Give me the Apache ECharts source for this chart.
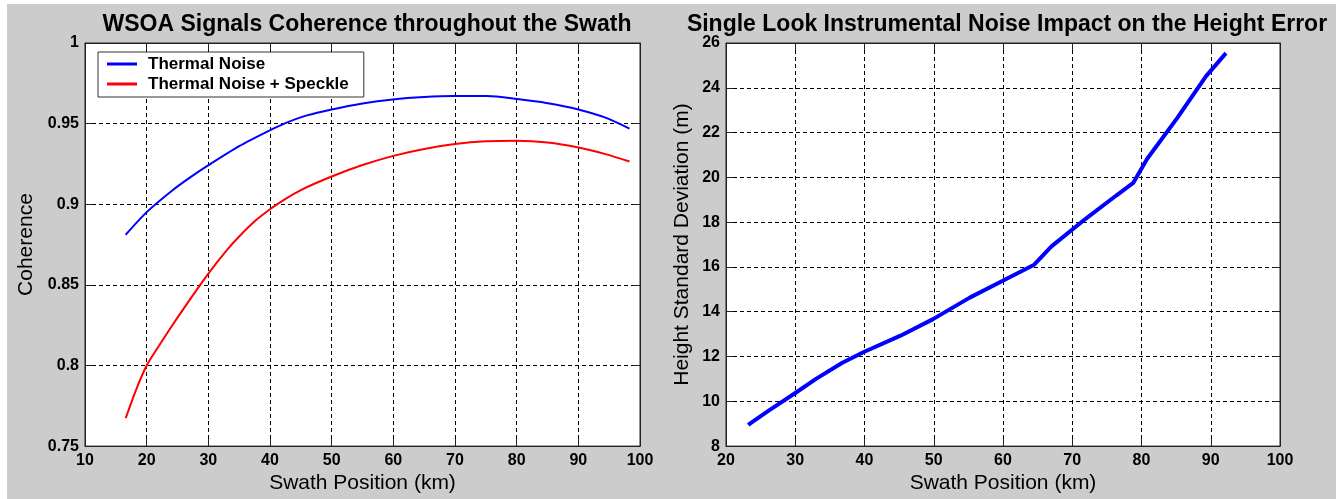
<!DOCTYPE html>
<html>
<head>
<meta charset="utf-8">
<script src="https://cdn.jsdelivr.net/npm/echarts@6/dist/echarts.min.js"></script>
<style>
    html, body { margin: 0; padding: 0; background: #ffffff; }
    #chart { width: 1336px; height: 499px; }
</style>
</head>
<body>
<div id="chart"></div>
<script>

// left panel: coherence vs swath position
var thermalX = [16.6, 20, 24.1, 27, 29.9, 35, 39.8, 42.5, 46, 50, 55, 59.9, 65, 69.8, 75.3, 80.1, 84.8, 90, 94.4, 98.3];
var thermalY = [0.8811, 0.8951, 0.9084, 0.9165, 0.9239, 0.936, 0.9455, 0.9503, 0.9551, 0.9588, 0.9625, 0.965, 0.9665, 0.9671, 0.9671, 0.9652, 0.9628, 0.9588, 0.9537, 0.9469];

var speckleX = [16.6, 18.3, 20, 22, 24, 26, 28, 30, 33, 35, 37.7, 40, 42.2, 45, 50, 55, 60, 65, 70, 75, 80, 85, 90, 94.4, 98.3];
var speckleY = [0.7674, 0.7851, 0.8, 0.8122, 0.824, 0.8353, 0.8463, 0.857, 0.8715, 0.88, 0.89, 0.8969, 0.9026, 0.9088, 0.9172, 0.9243, 0.93, 0.9343, 0.9373, 0.939, 0.9394, 0.9383, 0.9352, 0.9311, 0.9265];

// right panel: height standard deviation
var heightX = [23.2, 26, 29.9, 33, 36.8, 39.9, 45.2, 49.9, 55.2, 59.9, 64.5, 67, 71.4, 76.4, 78.8, 80.8, 85.2, 89.3, 92.2];
var heightY = [8.95, 9.55, 10.35, 11.0, 11.72, 12.2, 12.93, 13.67, 14.63, 15.37, 16.1, 16.92, 18.02, 19.2, 19.75, 20.82, 22.67, 24.51, 25.55];

var titles = ['WSOA Signals Coherence throughout the Swath', 'Single Look Instrumental Noise Impact on the Height Error'];
var legendNames = ['Thermal Noise', 'Thermal Noise + Speckle'];

function pairs(xs, ys) {
    return xs.map(function (x, i) { return [x, ys[i]]; });
}

var font = "'Liberation Sans', Arial, sans-serif";
var gridDash = { color: '#000', width: 1, type: [4, 3] };
var tickLabel = { fontFamily: font, fontSize: 16, fontWeight: 'bold', color: '#000', margin: 6 };

function bottomAxis(grid, min, max) {
    return {
        type: 'value', gridIndex: grid, min: min, max: max, interval: 10,
        name: 'Swath Position (km)', nameLocation: 'middle', nameGap: 26,
        nameTextStyle: { fontFamily: font, fontSize: 21, color: '#000' },
        axisLine: { lineStyle: { color: '#222' } },
        axisTick: { inside: true, length: 7, lineStyle: { color: '#222' } },
        axisLabel: tickLabel,
        splitLine: { show: true, lineStyle: gridDash }
    };
}

function topAxis(grid, min, max) {
    return {
        type: 'value', gridIndex: grid, position: 'top', min: min, max: max, interval: 10,
        axisLine: { lineStyle: { color: '#222' } },
        axisTick: { inside: true, length: 7, lineStyle: { color: '#222' } },
        axisLabel: { show: false },
        splitLine: { show: false }
    };
}

function leftAxis(grid, min, max, step, name, gap) {
    return {
        type: 'value', gridIndex: grid, min: min, max: max, interval: step,
        name: name, nameLocation: 'middle', nameGap: gap,
        nameTextStyle: { fontFamily: font, fontSize: 21, color: '#000' },
        axisLine: { show: true, lineStyle: { color: '#222' } },
        axisTick: { show: true, inside: true, length: 7, lineStyle: { color: '#222' } },
        axisLabel: tickLabel,
        splitLine: { show: true, lineStyle: gridDash }
    };
}

function rightAxis(grid, min, max, step) {
    return {
        type: 'value', gridIndex: grid, position: 'right', min: min, max: max, interval: step,
        axisLine: { show: true, lineStyle: { color: '#222' } },
        axisTick: { show: true, inside: true, length: 7, lineStyle: { color: '#222' } },
        axisLabel: { show: false },
        splitLine: { show: false }
    };
}

var myChart = echarts.init(document.getElementById('chart'));

var option = {
    backgroundColor: '#cccccc',
    animation: false,
    graphic: [
        { type: 'rect', shape: { x: 0, y: 0, width: 7, height: 499 }, style: { fill: '#ffffff' } },
        { type: 'rect', shape: { x: 0, y: 0, width: 1336, height: 4 }, style: { fill: '#ffffff' } }
    ],
    title: [
        {
            text: titles[0], left: 362, top: 8, textAlign: 'center',
            textStyle: { fontFamily: font, fontSize: 23, fontWeight: 'bold', color: '#000' }
        },
        {
            text: titles[1], left: 1002, top: 8, textAlign: 'center',
            textStyle: { fontFamily: font, fontSize: 23, fontWeight: 'bold', color: '#000' }
        }
    ],
    legend: {
        data: legendNames,
        orient: 'vertical',
        left: 98, top: 52,
        padding: [3, 15, 4, 9],
        itemGap: 2,
        itemWidth: 30, itemHeight: 3,
        icon: 'rect',
        backgroundColor: '#ffffff',
        borderColor: '#333',
        borderWidth: 1,
        borderRadius: 0,
        textStyle: { fontFamily: font, fontSize: 17, fontWeight: 'bold', color: '#000', lineHeight: 18, padding: [0, 0, 0, 6] }
    },
    grid: [
        { left: 85, top: 43, width: 555, height: 407, show: true, backgroundColor: '#ffffff', borderColor: '#222', borderWidth: 1 },
        { left: 726, top: 43, width: 554, height: 407, show: true, backgroundColor: '#ffffff', borderColor: '#222', borderWidth: 1 }
    ],
    xAxis: [
        bottomAxis(0, 10, 100),
        bottomAxis(1, 20, 100),
        topAxis(0, 10, 100),
        topAxis(1, 20, 100)
    ],
    yAxis: [
        leftAxis(0, 0.75, 1, 0.05, 'Coherence', 48),
        leftAxis(1, 8, 26, 2, 'Height Standard Deviation (m)', 33),
        rightAxis(0, 0.75, 1, 0.05),
        rightAxis(1, 8, 26, 2)
    ],
    series: [
        {
            name: legendNames[0], type: 'line', xAxisIndex: 0, yAxisIndex: 0,
            data: pairs(thermalX, thermalY),
            smooth: 0.25, showSymbol: false,
            lineStyle: { color: '#0000ff', width: 2 }, itemStyle: { color: '#0000ff' }
        },
        {
            name: legendNames[1], type: 'line', xAxisIndex: 0, yAxisIndex: 0,
            data: pairs(speckleX, speckleY),
            smooth: 0.25, showSymbol: false,
            lineStyle: { color: '#ff0000', width: 2 }, itemStyle: { color: '#ff0000' }
        },
        {
            name: 'Height', type: 'line', xAxisIndex: 1, yAxisIndex: 1,
            data: pairs(heightX, heightY),
            showSymbol: false,
            lineStyle: { color: '#0000ff', width: 4 }, itemStyle: { color: '#0000ff' }
        }
    ]
};

myChart.setOption(option);

</script>
</body>
</html>
